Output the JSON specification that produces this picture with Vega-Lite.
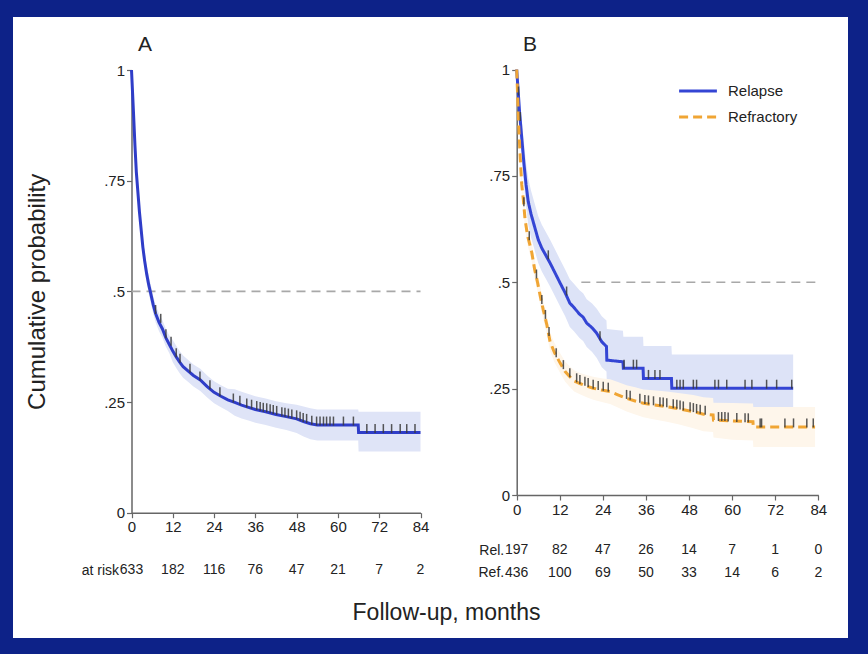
{
  "$schema": "https://vega.github.io/schema/vega-lite/v6.json",
  "width": 835,
  "height": 621,
  "autosize": {"type": "none"},
  "padding": {"left": 13, "top": 17, "right": 20, "bottom": 16},
  "background": "#0d2288",
  "config": {
    "font": "Liberation Sans",
    "view": {"fill": "white", "stroke": null},
    "axis": {"domainColor": "#666", "domainWidth": 1.5, "tickColor": "#666", "tickWidth": 1.2, "tickSize": 5, "labelFontSize": 15, "labelColor": "#222", "labelPadding": 2, "titleColor": "#222", "grid": false, "labelFont": "Liberation Sans", "titleFont": "Liberation Sans"}
  },
  "title": {"text": "Follow-up, months", "orient": "bottom", "offset": -36, "dx": 16, "fontSize": 23, "fontWeight": "normal", "color": "#222", "anchor": "middle", "font": "Liberation Sans"},
  "datasets": {
    "curveA": [
      {"t": 0, "s": 1, "lo": 1, "hi": 1},
      {"t": 0.3, "s": 0.95, "lo": 0.935, "hi": 0.965},
      {"t": 0.6, "s": 0.9, "lo": 0.885, "hi": 0.915},
      {"t": 1, "s": 0.83, "lo": 0.815, "hi": 0.845},
      {"t": 1.4, "s": 0.77, "lo": 0.755, "hi": 0.785},
      {"t": 1.8, "s": 0.73, "lo": 0.715, "hi": 0.745},
      {"t": 2.3, "s": 0.68, "lo": 0.66, "hi": 0.7},
      {"t": 2.8, "s": 0.64, "lo": 0.62, "hi": 0.66},
      {"t": 3.3, "s": 0.6, "lo": 0.58, "hi": 0.62},
      {"t": 3.8, "s": 0.57, "lo": 0.55, "hi": 0.59},
      {"t": 4.4, "s": 0.54, "lo": 0.52, "hi": 0.56},
      {"t": 5, "s": 0.515, "lo": 0.495, "hi": 0.535},
      {"t": 5.6, "s": 0.495, "lo": 0.475, "hi": 0.515},
      {"t": 6.3, "s": 0.47, "lo": 0.45, "hi": 0.49},
      {"t": 7, "s": 0.45, "lo": 0.43, "hi": 0.47},
      {"t": 8, "s": 0.43, "lo": 0.41, "hi": 0.45},
      {"t": 9, "s": 0.415, "lo": 0.395, "hi": 0.435},
      {"t": 10, "s": 0.395, "lo": 0.375, "hi": 0.415},
      {"t": 11, "s": 0.38, "lo": 0.36, "hi": 0.4},
      {"t": 12, "s": 0.365, "lo": 0.34, "hi": 0.39},
      {"t": 13, "s": 0.352, "lo": 0.327, "hi": 0.377},
      {"t": 14, "s": 0.34, "lo": 0.315, "hi": 0.365},
      {"t": 15, "s": 0.33, "lo": 0.305, "hi": 0.355},
      {"t": 16.5, "s": 0.32, "lo": 0.295, "hi": 0.345},
      {"t": 18, "s": 0.31, "lo": 0.285, "hi": 0.335},
      {"t": 20, "s": 0.3, "lo": 0.275, "hi": 0.325},
      {"t": 22, "s": 0.285, "lo": 0.26, "hi": 0.31},
      {"t": 24, "s": 0.272, "lo": 0.247, "hi": 0.297},
      {"t": 26, "s": 0.263, "lo": 0.238, "hi": 0.288},
      {"t": 28, "s": 0.255, "lo": 0.23, "hi": 0.28},
      {"t": 30, "s": 0.249, "lo": 0.219, "hi": 0.279},
      {"t": 32, "s": 0.243, "lo": 0.213, "hi": 0.273},
      {"t": 34, "s": 0.238, "lo": 0.208, "hi": 0.268},
      {"t": 36, "s": 0.233, "lo": 0.203, "hi": 0.263},
      {"t": 39, "s": 0.228, "lo": 0.198, "hi": 0.258},
      {"t": 42, "s": 0.222, "lo": 0.192, "hi": 0.252},
      {"t": 45, "s": 0.217, "lo": 0.187, "hi": 0.247},
      {"t": 48, "s": 0.212, "lo": 0.18, "hi": 0.244},
      {"t": 50, "s": 0.206, "lo": 0.172, "hi": 0.24},
      {"t": 52, "s": 0.201, "lo": 0.166, "hi": 0.236},
      {"t": 54, "s": 0.198, "lo": 0.163, "hi": 0.233},
      {"t": 65.9, "s": 0.198, "lo": 0.163, "hi": 0.233},
      {"t": 66, "s": 0.181, "lo": 0.138, "hi": 0.228},
      {"t": 84, "s": 0.181, "lo": 0.138, "hi": 0.228}
    ],
    "censA": [
      {"t": 7, "s": 0.45}, {"t": 8.5, "s": 0.43}, {"t": 10, "s": 0.395}, {"t": 11.5, "s": 0.378}, {"t": 13, "s": 0.352},
      {"t": 14.1, "s": 0.34}, {"t": 17, "s": 0.317}, {"t": 19.9, "s": 0.3}, {"t": 22.8, "s": 0.28}, {"t": 25.7, "s": 0.264},
      {"t": 29.6, "s": 0.25}, {"t": 31.5, "s": 0.245}, {"t": 33.5, "s": 0.239}, {"t": 34.9, "s": 0.236}, {"t": 36.4, "s": 0.233},
      {"t": 37.4, "s": 0.231}, {"t": 38.3, "s": 0.229}, {"t": 39.3, "s": 0.228}, {"t": 40.3, "s": 0.226}, {"t": 41.2, "s": 0.224},
      {"t": 42.2, "s": 0.222}, {"t": 43.7, "s": 0.219}, {"t": 44.6, "s": 0.218}, {"t": 45.6, "s": 0.216}, {"t": 46.6, "s": 0.214},
      {"t": 48, "s": 0.212}, {"t": 49, "s": 0.209}, {"t": 49.9, "s": 0.206}, {"t": 50.9, "s": 0.204}, {"t": 52.4, "s": 0.2},
      {"t": 53.8, "s": 0.198}, {"t": 54.8, "s": 0.198}, {"t": 55.8, "s": 0.198}, {"t": 56.7, "s": 0.198}, {"t": 57.7, "s": 0.198},
      {"t": 58.7, "s": 0.198}, {"t": 61.6, "s": 0.198}, {"t": 64.5, "s": 0.198}, {"t": 68.4, "s": 0.181}, {"t": 70.8, "s": 0.181},
      {"t": 73.2, "s": 0.181}, {"t": 75.6, "s": 0.181}, {"t": 78.1, "s": 0.181}, {"t": 80, "s": 0.181}, {"t": 82.4, "s": 0.181}
    ],
    "curveB": [
      {"g": "Relapse", "t": 0, "s": 1, "lo": 1, "hi": 1},
      {"g": "Relapse", "t": 0.4, "s": 0.95, "lo": 0.93, "hi": 0.97},
      {"g": "Relapse", "t": 0.8, "s": 0.9, "lo": 0.87, "hi": 0.93},
      {"g": "Relapse", "t": 1.4, "s": 0.84, "lo": 0.8, "hi": 0.88},
      {"g": "Relapse", "t": 2, "s": 0.78, "lo": 0.73, "hi": 0.83},
      {"g": "Relapse", "t": 2.6, "s": 0.73, "lo": 0.68, "hi": 0.78},
      {"g": "Relapse", "t": 3.2, "s": 0.69, "lo": 0.635, "hi": 0.745},
      {"g": "Relapse", "t": 4, "s": 0.66, "lo": 0.605, "hi": 0.715},
      {"g": "Relapse", "t": 5, "s": 0.63, "lo": 0.575, "hi": 0.685},
      {"g": "Relapse", "t": 6, "s": 0.6, "lo": 0.545, "hi": 0.655},
      {"g": "Relapse", "t": 7, "s": 0.58, "lo": 0.525, "hi": 0.635},
      {"g": "Relapse", "t": 8, "s": 0.565, "lo": 0.51, "hi": 0.62},
      {"g": "Relapse", "t": 9.3, "s": 0.545, "lo": 0.49, "hi": 0.6},
      {"g": "Relapse", "t": 10.5, "s": 0.525, "lo": 0.47, "hi": 0.58},
      {"g": "Relapse", "t": 12.1, "s": 0.498, "lo": 0.443, "hi": 0.553},
      {"g": "Relapse", "t": 13.5, "s": 0.475, "lo": 0.42, "hi": 0.53},
      {"g": "Relapse", "t": 14.8, "s": 0.451, "lo": 0.395, "hi": 0.507},
      {"g": "Relapse", "t": 16, "s": 0.44, "lo": 0.384, "hi": 0.496},
      {"g": "Relapse", "t": 17.5, "s": 0.425, "lo": 0.369, "hi": 0.481},
      {"g": "Relapse", "t": 18.5, "s": 0.418, "lo": 0.362, "hi": 0.474},
      {"g": "Relapse", "t": 19.5, "s": 0.404, "lo": 0.348, "hi": 0.46},
      {"g": "Relapse", "t": 21, "s": 0.393, "lo": 0.336, "hi": 0.45},
      {"g": "Relapse", "t": 22.3, "s": 0.38, "lo": 0.322, "hi": 0.438},
      {"g": "Relapse", "t": 23.7, "s": 0.36, "lo": 0.3, "hi": 0.42},
      {"g": "Relapse", "t": 25, "s": 0.349, "lo": 0.29, "hi": 0.41},
      {"g": "Relapse", "t": 25.1, "s": 0.317, "lo": 0.262, "hi": 0.39},
      {"g": "Relapse", "t": 29.6, "s": 0.313, "lo": 0.258, "hi": 0.386},
      {"g": "Relapse", "t": 29.7, "s": 0.298, "lo": 0.245, "hi": 0.372},
      {"g": "Relapse", "t": 35.2, "s": 0.298, "lo": 0.245, "hi": 0.372},
      {"g": "Relapse", "t": 35.3, "s": 0.274, "lo": 0.225, "hi": 0.35},
      {"g": "Relapse", "t": 43.1, "s": 0.274, "lo": 0.225, "hi": 0.35},
      {"g": "Relapse", "t": 43.2, "s": 0.251, "lo": 0.207, "hi": 0.33},
      {"g": "Relapse", "t": 77, "s": 0.251, "lo": 0.207, "hi": 0.33},
      {"g": "Refractory", "t": 0, "s": 1, "lo": 1, "hi": 1},
      {"g": "Refractory", "t": 0.3, "s": 0.93, "lo": 0.915, "hi": 0.945},
      {"g": "Refractory", "t": 0.6, "s": 0.86, "lo": 0.84, "hi": 0.88},
      {"g": "Refractory", "t": 1, "s": 0.79, "lo": 0.77, "hi": 0.81},
      {"g": "Refractory", "t": 1.4, "s": 0.73, "lo": 0.71, "hi": 0.75},
      {"g": "Refractory", "t": 1.9, "s": 0.69, "lo": 0.668, "hi": 0.712},
      {"g": "Refractory", "t": 2.3, "s": 0.65, "lo": 0.628, "hi": 0.672},
      {"g": "Refractory", "t": 3, "s": 0.61, "lo": 0.588, "hi": 0.632},
      {"g": "Refractory", "t": 4.2, "s": 0.57, "lo": 0.548, "hi": 0.592},
      {"g": "Refractory", "t": 5, "s": 0.53, "lo": 0.508, "hi": 0.552},
      {"g": "Refractory", "t": 5.8, "s": 0.5, "lo": 0.478, "hi": 0.522},
      {"g": "Refractory", "t": 6.5, "s": 0.47, "lo": 0.448, "hi": 0.492},
      {"g": "Refractory", "t": 7.4, "s": 0.435, "lo": 0.413, "hi": 0.457},
      {"g": "Refractory", "t": 8.4, "s": 0.4, "lo": 0.378, "hi": 0.422},
      {"g": "Refractory", "t": 9.3, "s": 0.36, "lo": 0.338, "hi": 0.382},
      {"g": "Refractory", "t": 10.5, "s": 0.335, "lo": 0.312, "hi": 0.358},
      {"g": "Refractory", "t": 12.1, "s": 0.31, "lo": 0.287, "hi": 0.333},
      {"g": "Refractory", "t": 13.5, "s": 0.29, "lo": 0.266, "hi": 0.314},
      {"g": "Refractory", "t": 14.8, "s": 0.278, "lo": 0.254, "hi": 0.302},
      {"g": "Refractory", "t": 16, "s": 0.268, "lo": 0.243, "hi": 0.293},
      {"g": "Refractory", "t": 17.6, "s": 0.262, "lo": 0.237, "hi": 0.287},
      {"g": "Refractory", "t": 19.5, "s": 0.256, "lo": 0.23, "hi": 0.282},
      {"g": "Refractory", "t": 21.3, "s": 0.251, "lo": 0.224, "hi": 0.278},
      {"g": "Refractory", "t": 24, "s": 0.246, "lo": 0.218, "hi": 0.274},
      {"g": "Refractory", "t": 26, "s": 0.243, "lo": 0.214, "hi": 0.272},
      {"g": "Refractory", "t": 28, "s": 0.236, "lo": 0.206, "hi": 0.266},
      {"g": "Refractory", "t": 30.6, "s": 0.227, "lo": 0.196, "hi": 0.258},
      {"g": "Refractory", "t": 33, "s": 0.221, "lo": 0.189, "hi": 0.253},
      {"g": "Refractory", "t": 35.3, "s": 0.2155, "lo": 0.183, "hi": 0.248},
      {"g": "Refractory", "t": 38, "s": 0.212, "lo": 0.178, "hi": 0.246},
      {"g": "Refractory", "t": 41.8, "s": 0.2075, "lo": 0.172, "hi": 0.243},
      {"g": "Refractory", "t": 45, "s": 0.203, "lo": 0.166, "hi": 0.24},
      {"g": "Refractory", "t": 49.2, "s": 0.196, "lo": 0.157, "hi": 0.235},
      {"g": "Refractory", "t": 52, "s": 0.19, "lo": 0.15, "hi": 0.23},
      {"g": "Refractory", "t": 54.7, "s": 0.188, "lo": 0.148, "hi": 0.228},
      {"g": "Refractory", "t": 54.8, "s": 0.176, "lo": 0.135, "hi": 0.217},
      {"g": "Refractory", "t": 60, "s": 0.174, "lo": 0.13, "hi": 0.216},
      {"g": "Refractory", "t": 65.8, "s": 0.172, "lo": 0.128, "hi": 0.215},
      {"g": "Refractory", "t": 65.9, "s": 0.16, "lo": 0.113, "hi": 0.207},
      {"g": "Refractory", "t": 83.1, "s": 0.16, "lo": 0.113, "hi": 0.207}
    ],
    "censB": [
      {"g": "Relapse", "t": 0.5, "s": 0.94}, {"g": "Relapse", "t": 1, "s": 0.88}, {"g": "Relapse", "t": 8.8, "s": 0.555},
      {"g": "Relapse", "t": 13.9, "s": 0.47}, {"g": "Relapse", "t": 23.2, "s": 0.365}, {"g": "Relapse", "t": 29.9, "s": 0.298},
      {"g": "Relapse", "t": 32.5, "s": 0.298}, {"g": "Relapse", "t": 33.4, "s": 0.298}, {"g": "Relapse", "t": 36.7, "s": 0.274},
      {"g": "Relapse", "t": 38.5, "s": 0.274}, {"g": "Relapse", "t": 39.9, "s": 0.274}, {"g": "Relapse", "t": 44.6, "s": 0.251},
      {"g": "Relapse", "t": 45.5, "s": 0.251}, {"g": "Relapse", "t": 46.4, "s": 0.251}, {"g": "Relapse", "t": 49.2, "s": 0.251},
      {"g": "Relapse", "t": 50.1, "s": 0.251}, {"g": "Relapse", "t": 55.2, "s": 0.251}, {"g": "Relapse", "t": 56.2, "s": 0.251},
      {"g": "Relapse", "t": 58.5, "s": 0.251}, {"g": "Relapse", "t": 63.6, "s": 0.251}, {"g": "Relapse", "t": 65.5, "s": 0.251},
      {"g": "Relapse", "t": 69.6, "s": 0.251}, {"g": "Relapse", "t": 72.4, "s": 0.251}, {"g": "Relapse", "t": 76.6, "s": 0.251},
      {"g": "Refractory", "t": 2, "s": 0.68}, {"g": "Refractory", "t": 3.5, "s": 0.6}, {"g": "Refractory", "t": 5.5, "s": 0.51},
      {"g": "Refractory", "t": 7, "s": 0.45}, {"g": "Refractory", "t": 8, "s": 0.415}, {"g": "Refractory", "t": 9, "s": 0.375},
      {"g": "Refractory", "t": 11, "s": 0.325}, {"g": "Refractory", "t": 13, "s": 0.297}, {"g": "Refractory", "t": 14.8, "s": 0.278},
      {"g": "Refractory", "t": 16.7, "s": 0.266}, {"g": "Refractory", "t": 17.6, "s": 0.262}, {"g": "Refractory", "t": 19, "s": 0.258},
      {"g": "Refractory", "t": 19.9, "s": 0.255}, {"g": "Refractory", "t": 21.3, "s": 0.251}, {"g": "Refractory", "t": 22.7, "s": 0.248},
      {"g": "Refractory", "t": 24.1, "s": 0.246}, {"g": "Refractory", "t": 25.5, "s": 0.244}, {"g": "Refractory", "t": 30.6, "s": 0.227},
      {"g": "Refractory", "t": 31.6, "s": 0.225}, {"g": "Refractory", "t": 34.3, "s": 0.218}, {"g": "Refractory", "t": 35.7, "s": 0.215},
      {"g": "Refractory", "t": 36.7, "s": 0.214}, {"g": "Refractory", "t": 38.1, "s": 0.212}, {"g": "Refractory", "t": 39.9, "s": 0.21},
      {"g": "Refractory", "t": 40.8, "s": 0.209}, {"g": "Refractory", "t": 41.8, "s": 0.2075}, {"g": "Refractory", "t": 43.6, "s": 0.205},
      {"g": "Refractory", "t": 44.6, "s": 0.204}, {"g": "Refractory", "t": 45.5, "s": 0.202}, {"g": "Refractory", "t": 46.4, "s": 0.2},
      {"g": "Refractory", "t": 48.3, "s": 0.198}, {"g": "Refractory", "t": 49.2, "s": 0.196}, {"g": "Refractory", "t": 50.1, "s": 0.194},
      {"g": "Refractory", "t": 51.1, "s": 0.192}, {"g": "Refractory", "t": 52.5, "s": 0.19}, {"g": "Refractory", "t": 56.2, "s": 0.175},
      {"g": "Refractory", "t": 57.1, "s": 0.175}, {"g": "Refractory", "t": 58, "s": 0.175}, {"g": "Refractory", "t": 58.9, "s": 0.174},
      {"g": "Refractory", "t": 61.3, "s": 0.173}, {"g": "Refractory", "t": 63.6, "s": 0.172}, {"g": "Refractory", "t": 64.5, "s": 0.172},
      {"g": "Refractory", "t": 67.8, "s": 0.16}, {"g": "Refractory", "t": 68.2, "s": 0.16}, {"g": "Refractory", "t": 74.7, "s": 0.16},
      {"g": "Refractory", "t": 77.1, "s": 0.16}, {"g": "Refractory", "t": 80.8, "s": 0.16}, {"g": "Refractory", "t": 82.6, "s": 0.16}
    ],
    "riskA": [
      {"row": "at risk", "t": 0, "n": 633}, {"row": "at risk", "t": 12, "n": 182}, {"row": "at risk", "t": 24, "n": 116},
      {"row": "at risk", "t": 36, "n": 76}, {"row": "at risk", "t": 48, "n": 47}, {"row": "at risk", "t": 60, "n": 21},
      {"row": "at risk", "t": 72, "n": 7}, {"row": "at risk", "t": 84, "n": 2}
    ],
    "riskB": [
      {"row": "Rel.", "t": 0, "n": 197}, {"row": "Rel.", "t": 12, "n": 82}, {"row": "Rel.", "t": 24, "n": 47},
      {"row": "Rel.", "t": 36, "n": 26}, {"row": "Rel.", "t": 48, "n": 14}, {"row": "Rel.", "t": 60, "n": 7},
      {"row": "Rel.", "t": 72, "n": 1}, {"row": "Rel.", "t": 84, "n": 0},
      {"row": "Ref.", "t": 0, "n": 436}, {"row": "Ref.", "t": 12, "n": 100}, {"row": "Ref.", "t": 24, "n": 69},
      {"row": "Ref.", "t": 36, "n": 50}, {"row": "Ref.", "t": 48, "n": 33}, {"row": "Ref.", "t": 60, "n": 14},
      {"row": "Ref.", "t": 72, "n": 6}, {"row": "Ref.", "t": 84, "n": 2}
    ]
  },
  "layer": [
    {
      "layer": [
        {
          "data": {"name": "curveA"},
          "mark": {"type": "area", "color": "#dfe4f7"},
          "encoding": {
            "x": {"field": "t", "type": "quantitative", "scale": {"domain": [0, 84], "range": [118.5, 407.5], "nice": false, "zero": false}, "axis": {"orient": "bottom", "offset": -125.3, "values": [0, 12, 24, 36, 48, 60, 72, 84], "title": null, "labelFlush": false, "grid": false}},
            "y": {"field": "lo", "type": "quantitative", "scale": {"domain": [0, 1], "range": [495.7, 53], "nice": false, "zero": false}, "axis": {"orient": "left", "offset": -118.5, "values": [0, 0.25, 0.5, 0.75, 1], "labelExpr": "replace(format(datum.value, '.2~f'), '0.', '.')", "title": "Cumulative probability", "titlePadding": 54, "titleFontSize": 24, "titleFontWeight": "normal", "grid": false}},
            "y2": {"field": "hi"}
          }
        },
        {
          "data": {"values": [{"x0": 0, "x1": 84, "y": 0.5}]},
          "mark": {"type": "rule", "color": "#a8a8a8", "strokeWidth": 1.6, "strokeDash": [9, 6]},
          "encoding": {
            "x": {"field": "x0", "type": "quantitative", "scale": {"domain": [0, 84], "range": [118.5, 407.5], "nice": false, "zero": false}, "axis": {"orient": "bottom", "offset": -125.3, "values": [0, 12, 24, 36, 48, 60, 72, 84], "title": null, "labelFlush": false, "grid": false}},
            "x2": {"field": "x1"},
            "y": {"field": "y", "type": "quantitative", "scale": {"domain": [0, 1], "range": [495.7, 53], "nice": false, "zero": false}, "axis": {"orient": "left", "offset": -118.5, "values": [0, 0.25, 0.5, 0.75, 1], "labelExpr": "replace(format(datum.value, '.2~f'), '0.', '.')", "title": "Cumulative probability", "titlePadding": 54, "titleFontSize": 24, "titleFontWeight": "normal", "grid": false}}
          }
        },
        {
          "data": {"name": "curveA"},
          "mark": {"type": "line", "color": "#2f3dc8", "strokeWidth": 3},
          "encoding": {
            "x": {"field": "t", "type": "quantitative", "scale": {"domain": [0, 84], "range": [118.5, 407.5], "nice": false, "zero": false}, "axis": {"orient": "bottom", "offset": -125.3, "values": [0, 12, 24, 36, 48, 60, 72, 84], "title": null, "labelFlush": false, "grid": false}},
            "y": {"field": "s", "type": "quantitative", "scale": {"domain": [0, 1], "range": [495.7, 53], "nice": false, "zero": false}, "axis": {"orient": "left", "offset": -118.5, "values": [0, 0.25, 0.5, 0.75, 1], "labelExpr": "replace(format(datum.value, '.2~f'), '0.', '.')", "title": "Cumulative probability", "titlePadding": 54, "titleFontSize": 24, "titleFontWeight": "normal", "grid": false}}
          }
        },
        {
          "data": {"name": "censA"},
          "mark": {"type": "tick", "orient": "vertical", "color": "#3a3a3a", "size": 9, "thickness": 1.5, "yOffset": -4, "opacity": 0.85},
          "encoding": {
            "x": {"field": "t", "type": "quantitative", "scale": {"domain": [0, 84], "range": [118.5, 407.5], "nice": false, "zero": false}, "axis": {"orient": "bottom", "offset": -125.3, "values": [0, 12, 24, 36, 48, 60, 72, 84], "title": null, "labelFlush": false, "grid": false}},
            "y": {"field": "s", "type": "quantitative", "scale": {"domain": [0, 1], "range": [495.7, 53], "nice": false, "zero": false}, "axis": {"orient": "left", "offset": -118.5, "values": [0, 0.25, 0.5, 0.75, 1], "labelExpr": "replace(format(datum.value, '.2~f'), '0.', '.')", "title": "Cumulative probability", "titlePadding": 54, "titleFontSize": 24, "titleFontWeight": "normal", "grid": false}}
          }
        },
        {
          "data": {"values": [{"label": "A", "x": 3.9, "y": 1.056}]},
          "mark": {"type": "text", "fontSize": 21, "color": "#222"},
          "encoding": {
            "x": {"field": "x", "type": "quantitative", "scale": {"domain": [0, 84], "range": [118.5, 407.5], "nice": false, "zero": false}, "axis": {"orient": "bottom", "offset": -125.3, "values": [0, 12, 24, 36, 48, 60, 72, 84], "title": null, "labelFlush": false, "grid": false}},
            "y": {"field": "y", "type": "quantitative", "scale": {"domain": [0, 1], "range": [495.7, 53], "nice": false, "zero": false}, "axis": {"orient": "left", "offset": -118.5, "values": [0, 0.25, 0.5, 0.75, 1], "labelExpr": "replace(format(datum.value, '.2~f'), '0.', '.')", "title": "Cumulative probability", "titlePadding": 54, "titleFontSize": 24, "titleFontWeight": "normal", "grid": false}},
            "text": {"field": "label"}
          }
        }
      ]
    },
    {
      "data": {"name": "riskA"},
      "mark": {"type": "text", "fontSize": 14, "color": "#222"},
      "encoding": {
        "x": {"field": "t", "type": "quantitative", "scale": {"domain": [0, 84], "range": [118.5, 407.5], "nice": false, "zero": false}, "axis": null},
        "y": {"field": "row", "type": "nominal", "scale": {"type": "point", "domain": ["at risk"], "range": [543, 563], "padding": 0.5}, "axis": {"orient": "left", "offset": -118.5, "domain": false, "ticks": false, "labelPadding": 13, "title": null, "labelFontSize": 14}},
        "text": {"field": "n"}
      }
    },
    {
      "layer": [
        {
          "data": {"name": "curveB"},
          "mark": {"type": "area"},
          "encoding": {
            "x": {"field": "t", "type": "quantitative", "scale": {"domain": [0, 84], "range": [503.7, 805.3], "nice": false, "zero": false}, "axis": {"orient": "bottom", "offset": -143, "values": [0, 12, 24, 36, 48, 60, 72, 84], "title": null, "labelFlush": false, "grid": false}},
            "y": {"field": "lo", "type": "quantitative", "scale": {"domain": [0, 1], "range": [478, 52.5], "nice": false, "zero": false}, "axis": {"orient": "left", "offset": -503.7, "values": [0, 0.25, 0.5, 0.75, 1], "labelExpr": "replace(format(datum.value, '.2~f'), '0.', '.')", "title": null, "grid": false}},
            "y2": {"field": "hi"},
            "fill": {"field": "g", "type": "nominal", "scale": {"domain": ["Refractory", "Relapse"], "range": ["#fef6eb", "#dde3f7"]}, "legend": null}
          }
        },
        {
          "data": {"values": [{"x0": 18, "x1": 84, "y": 0.5}]},
          "mark": {"type": "rule", "color": "#a8a8a8", "strokeWidth": 1.6, "strokeDash": [9, 6]},
          "encoding": {
            "x": {"field": "x0", "type": "quantitative", "scale": {"domain": [0, 84], "range": [503.7, 805.3], "nice": false, "zero": false}, "axis": {"orient": "bottom", "offset": -143, "values": [0, 12, 24, 36, 48, 60, 72, 84], "title": null, "labelFlush": false, "grid": false}},
            "x2": {"field": "x1"},
            "y": {"field": "y", "type": "quantitative", "scale": {"domain": [0, 1], "range": [478, 52.5], "nice": false, "zero": false}, "axis": {"orient": "left", "offset": -503.7, "values": [0, 0.25, 0.5, 0.75, 1], "labelExpr": "replace(format(datum.value, '.2~f'), '0.', '.')", "title": null, "grid": false}}
          }
        },
        {
          "data": {"name": "curveB"},
          "mark": {"type": "line", "strokeWidth": 3},
          "encoding": {
            "x": {"field": "t", "type": "quantitative", "scale": {"domain": [0, 84], "range": [503.7, 805.3], "nice": false, "zero": false}, "axis": {"orient": "bottom", "offset": -143, "values": [0, 12, 24, 36, 48, 60, 72, 84], "title": null, "labelFlush": false, "grid": false}},
            "y": {"field": "s", "type": "quantitative", "scale": {"domain": [0, 1], "range": [478, 52.5], "nice": false, "zero": false}, "axis": {"orient": "left", "offset": -503.7, "values": [0, 0.25, 0.5, 0.75, 1], "labelExpr": "replace(format(datum.value, '.2~f'), '0.', '.')", "title": null, "grid": false}},
            "color": {"field": "g", "type": "nominal", "scale": {"domain": ["Relapse", "Refractory"], "range": ["#3445d4", "#f0a534"]}, "legend": {"title": null, "orient": "none", "legendX": 670, "legendY": 59, "symbolType": "M-1.4,0H1.4", "symbolSize": 729, "symbolStrokeWidth": 3, "labelFontSize": 15, "labelColor": "#222", "rowPadding": 3, "labelOffset": 15}},
            "strokeDash": {"field": "g", "type": "nominal", "scale": {"domain": ["Relapse", "Refractory"], "range": [[1, 0], [9, 5]]}, "legend": {"title": null, "orient": "none", "legendX": 670, "legendY": 59, "symbolType": "M-1.4,0H1.4", "symbolSize": 729, "symbolStrokeWidth": 3, "labelFontSize": 15, "labelColor": "#222", "rowPadding": 3, "labelOffset": 15}}
          }
        },
        {
          "data": {"name": "censB"},
          "mark": {"type": "tick", "orient": "vertical", "color": "#3a3a3a", "size": 9, "thickness": 1.5, "yOffset": -4, "opacity": 0.85},
          "encoding": {
            "x": {"field": "t", "type": "quantitative", "scale": {"domain": [0, 84], "range": [503.7, 805.3], "nice": false, "zero": false}, "axis": {"orient": "bottom", "offset": -143, "values": [0, 12, 24, 36, 48, 60, 72, 84], "title": null, "labelFlush": false, "grid": false}},
            "y": {"field": "s", "type": "quantitative", "scale": {"domain": [0, 1], "range": [478, 52.5], "nice": false, "zero": false}, "axis": {"orient": "left", "offset": -503.7, "values": [0, 0.25, 0.5, 0.75, 1], "labelExpr": "replace(format(datum.value, '.2~f'), '0.', '.')", "title": null, "grid": false}}
          }
        },
        {
          "data": {"values": [{"label": "B", "x": 3.7, "y": 1.058}]},
          "mark": {"type": "text", "fontSize": 21, "color": "#222"},
          "encoding": {
            "x": {"field": "x", "type": "quantitative", "scale": {"domain": [0, 84], "range": [503.7, 805.3], "nice": false, "zero": false}, "axis": {"orient": "bottom", "offset": -143, "values": [0, 12, 24, 36, 48, 60, 72, 84], "title": null, "labelFlush": false, "grid": false}},
            "y": {"field": "y", "type": "quantitative", "scale": {"domain": [0, 1], "range": [478, 52.5], "nice": false, "zero": false}, "axis": {"orient": "left", "offset": -503.7, "values": [0, 0.25, 0.5, 0.75, 1], "labelExpr": "replace(format(datum.value, '.2~f'), '0.', '.')", "title": null, "grid": false}},
            "text": {"field": "label"}
          }
        }
      ]
    },
    {
      "data": {"name": "riskB"},
      "mark": {"type": "text", "fontSize": 14, "color": "#222"},
      "encoding": {
        "x": {"field": "t", "type": "quantitative", "scale": {"domain": [0, 84], "range": [503.7, 805.3], "nice": false, "zero": false}, "axis": null},
        "y": {"field": "row", "type": "nominal", "scale": {"type": "point", "domain": ["Rel.", "Ref."], "range": [533, 555.7], "padding": 0}, "axis": {"orient": "left", "offset": -503.7, "domain": false, "ticks": false, "labelPadding": 13, "title": null, "labelFontSize": 14}},
        "text": {"field": "n"}
      }
    }
  ],
  "resolve": {"scale": {"x": "independent", "y": "independent"}, "axis": {"x": "independent", "y": "independent"}}
}
